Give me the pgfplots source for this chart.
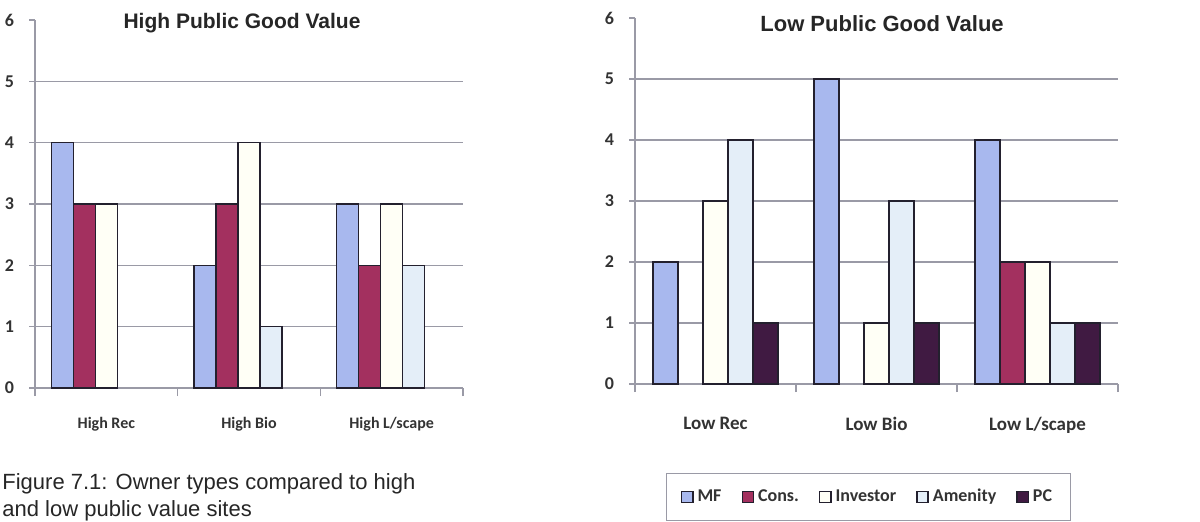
\documentclass[border=0pt]{standalone}
\usepackage{fontspec}
\usepackage{pgfplots}
\pgfplotsset{compat=1.18}
\setmainfont{Liberation Sans}
\newfontfamily\calfont{Carlito}
\newfontfamily\arialfont{Liberation Sans}

\definecolor{cMF}{HTML}{A8B8EE}
\definecolor{cCons}{HTML}{A3305F}
\definecolor{cInv}{HTML}{FFFFF6}
\definecolor{cAmen}{HTML}{E4EEF8}
\definecolor{cPC}{HTML}{401A42}
\definecolor{edge}{HTML}{23202E}
\definecolor{gridc}{HTML}{9A9AA6}

\pgfplotsset{
  ownerbars/.style={
    ybar, scale only axis,
    xmin=-0.5, xmax=2.5, ymin=0, ymax=6,
    axis x line*=bottom, axis y line*=left,
    axis line style={-, gridc, line width=0.6pt},
    ytick={0,...,5}, extra y ticks={6},
    extra y tick style={grid=none},
    ymajorgrids, grid style={gridc, line width=0.6pt},
    tick align=outside, major tick length=3pt,
    ytick style={gridc, line width=0.6pt},
    xtick={0,1,2}, major x tick style={draw=none},
    minor xtick={-0.5,0.5,1.5,2.5},
    minor x tick style={gridc, line width=0.6pt}, minor tick length=4pt,
    /pgf/number format/assume math mode=true,
    yticklabel style={font=\calfont\bfseries\fontsize{9}{10}\selectfont, text=black!80, xshift=-4pt},
    every axis plot/.append style={draw=edge, line width=0.8pt},
    legend image code/.code={\draw[#1, draw=edge, line width=0.7pt] (0pt,-2.8pt) rectangle (5.6pt,2.8pt);},
  },
}

\begin{document}
\begin{tikzpicture}
\path[fill=white, use as bounding box] (0pt,0pt) rectangle (600pt,260.5pt);

% High public good value sites
\begin{axis}[ownerbars, at={(17.5pt,66.5pt)}, anchor=south west,
  width=214pt, height=184pt, bar width=11pt,
  xticklabels={High Rec, High Bio, High L/scape},
  xticklabel style={font=\calfont\bfseries\fontsize{8}{9}\selectfont, text=black!80, yshift=-8pt}]
\addplot[fill=cMF,   bar shift=-22pt] coordinates {(0,4) (1,2) (2,3)};
\addplot[fill=cCons, bar shift=-11pt] coordinates {(0,3) (1,3) (2,2)};
\addplot[fill=cInv,  bar shift=0pt]   coordinates {(0,3) (1,4) (2,3)};
\addplot[fill=cAmen, bar shift=11pt]  coordinates {(1,1) (2,2)};
\end{axis}

% Low public good value sites
\begin{axis}[ownerbars, at={(317.5pt,68.5pt)}, anchor=south west,
  width=241.5pt, height=183pt, bar width=12.5pt,
  xticklabels={Low Rec, Low Bio, Low L/scape},
  xticklabel style={font=\calfont\bfseries\fontsize{9.5}{11}\selectfont, text=black!80, yshift=-10pt},
  legend columns=-1,
  legend style={at={(axis description cs:0.4834,-0.309)}, anchor=center,
    draw=gridc, line width=0.5pt, fill=white,
    font=\calfont\bfseries\fontsize{9}{10}\selectfont, text=black!80,
    minimum height=0pt, inner xsep=7pt, inner ysep=6pt,
    /tikz/every even column/.append style={column sep=8pt}},
  legend cell align=left]
\addplot[fill=cMF,   bar shift=-25pt]   coordinates {(0,2) (1,5) (2,4)};
\addlegendentry{MF}
\addplot[fill=cCons, bar shift=-12.5pt] coordinates {(2,2)};
\addlegendentry{Cons.}
\addplot[fill=cInv,  bar shift=0pt]     coordinates {(0,3) (1,1) (2,2)};
\addlegendentry{Investor}
\addplot[fill=cAmen, bar shift=12.5pt]  coordinates {(0,4) (1,3) (2,1)};
\addlegendentry{Amenity}
\addplot[fill=cPC,   bar shift=25pt]    coordinates {(0,1) (1,1) (2,1)};
\addlegendentry{PC}
\end{axis}

\node[font=\arialfont\bfseries\fontsize{10.5}{12}\selectfont, text=black!85] at (121pt,249pt) {High Public Good Value};
\node[font=\arialfont\bfseries\fontsize{11}{13}\selectfont, text=black!85] at (441pt,248.5pt) {Low Public Good Value};

\node[font=\arialfont\fontsize{11}{13}\selectfont, text=black!85, anchor=base west, inner sep=0pt] at (1pt,16pt) {Figure 7.1: Owner types compared to high};
\node[font=\arialfont\fontsize{11}{13}\selectfont, text=black!85, anchor=base west, inner sep=0pt] at (1pt,2.5pt) {and low public value sites};
\end{tikzpicture}
\end{document}
